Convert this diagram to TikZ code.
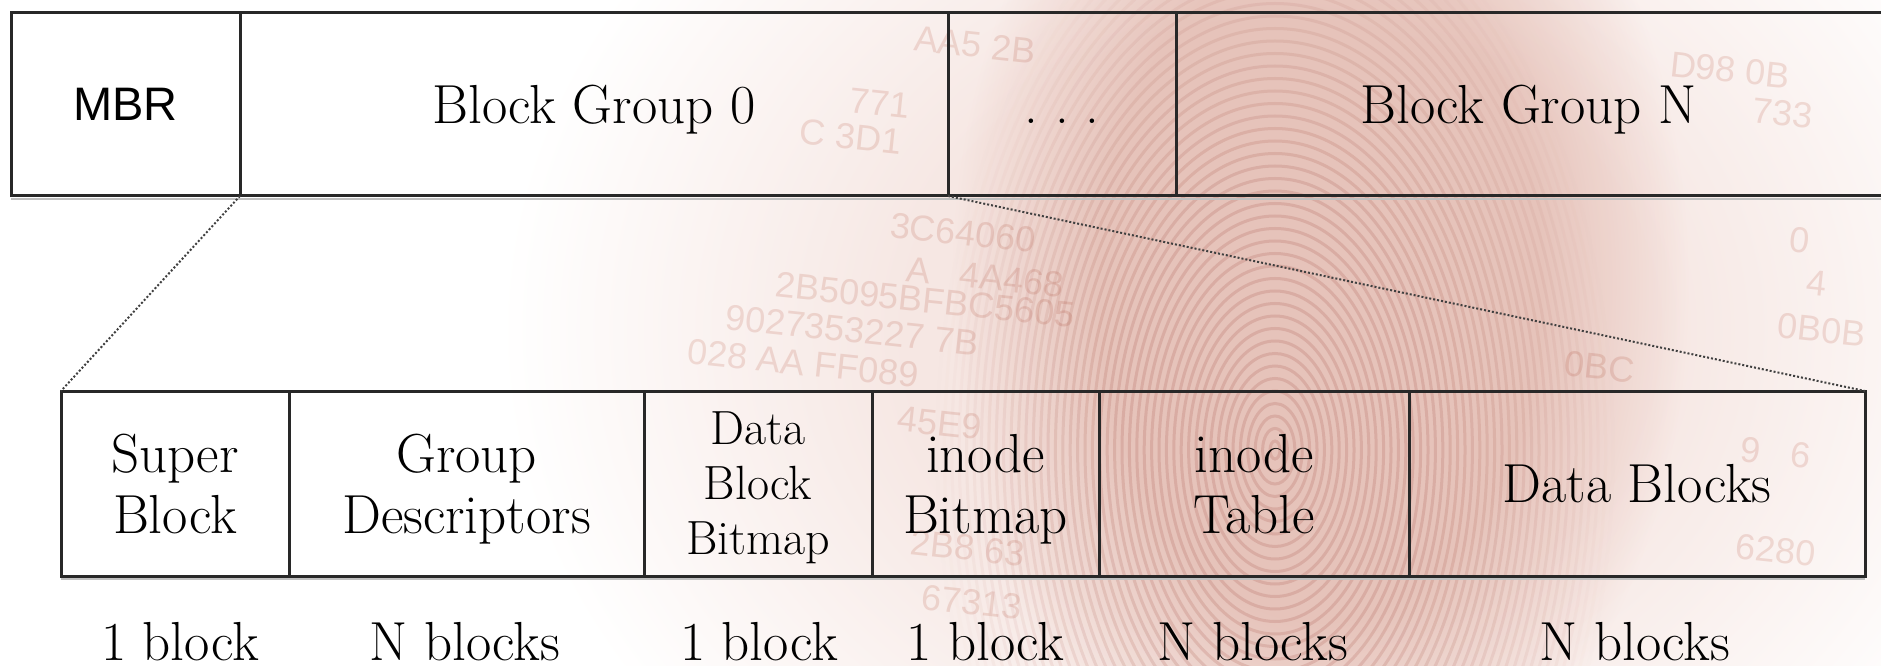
\documentclass[tikz,border=0pt]{standalone}
\usepackage{fontspec}
\newfontfamily\mbrfont{Liberation Sans}
\newfontfamily\hexfont{Liberation Sans}
\usetikzlibrary{calc}

% watermark colours
\definecolor{glowpink}{RGB}{246,231,227}
\definecolor{bodypink}{RGB}{239,216,210}
\definecolor{ridgepink}{RGB}{196,134,124}
\definecolor{hexpink}{RGB}{243,226,222}
\definecolor{edge}{RGB}{40,40,40}

% soft elliptical glows: flat core, fading to white at the rim
\pgfdeclareradialshading{glowshade}{\pgfpointorigin}{color(0bp)=(glowpink); color(12bp)=(glowpink); color(25bp)=(white); color(50bp)=(white)}
\pgfdeclareradialshading{bodyshade}{\pgfpointorigin}{color(0bp)=(bodypink); color(15bp)=(bodypink); color(25bp)=(white); color(50bp)=(white)}

\begin{document}
\begin{tikzpicture}[x=1pt,y=1pt,
  cell/.style={draw=edge, line width=3pt, inner sep=0pt, outer sep=0pt,
    text depth=0pt, align=center, font=\fontsize{55}{61}\selectfont},
  toprow/.style={cell, minimum height=183pt},
  botrow/.style={cell, minimum height=185pt},
  rowline/.style={draw=edge, line width=3pt},
  shadowline/.style={draw=black!25, line width=2.5pt},
  zoomline/.style={draw=black!75, line width=2pt, dash pattern=on 2pt off 2pt},
  sizelabel/.style={anchor=base, inner sep=0pt, font=\fontsize{55}{61}\selectfont},
  hex/.style={text=hexpink, inner sep=0pt, rotate=-6, font=\hexfont\fontsize{36}{36}\selectfont},
]
\useasboundingbox (0,0) rectangle (1881,665);
\fill[white] (0,0) rectangle (1881,665);

% fingerprint watermark behind the diagram
\begin{scope}[blend mode=multiply]
  \shade[shading=glowshade] (1280,335) ellipse (780 and 640);
  \shade[shading=bodyshade] (1320,380) ellipse (370 and 560);
  \foreach \i in {0,...,45}{
    \pgfmathtruncatemacro\k{min(24,30*(1-(\i/46)^2))}
    \draw[draw=ridgepink!\k!white, line width=3pt] (1275,215) ellipse ({5+7.4*\i} and {9+12.5*\i});
  }
  % hexadecimal dump fragments
  \node[hex] (h1) at (963,432) {3C64060};
  \node[hex] (h2) at (985,388) {A\ \ \ 4A468};
  \node[hex] (h3) at (925,365) {2B5095BFBC5605};
  \node[hex] (h4) at (852,335) {9027353227 7B};
  \node[hex] (h5) at (803,302) {028 AA FF089};
  \node[hex] (h6) at (940,242) {45E9};
  \node[hex] (h7) at (968,117) {2B8 63};
  \node[hex] (h8) at (972,63) {67313};
  \node[hex] (h9) at (975,620) {AA5 2B};
  \node[hex] (h10) at (880,562) {771};
  \node[hex] (h11) at (851,528) {C 3D1};
  \node[hex] (h12) at (1730,595) {D98 0B};
  \node[hex] (h13) at (1783,552) {733};
  \node[hex] (h14) at (1800,425) {0};
  \node[hex] (h15) at (1817,382) {4};
  \node[hex] (h16) at (1822,335) {0B0B};
  \node[hex] (h17) at (1600,298) {0BC};
  \node[hex] (h18) at (1776,212) {9\ \ \ 6};
  \node[hex] (h19) at (1776,115) {6280};
\end{scope}

% disk layout: MBR followed by the block groups
\node[toprow, minimum width=229pt, font=\mbrfont\fontsize{47}{56}\selectfont] (mbr) at (125.5,560.5) {MBR};
\node[toprow, minimum width=708pt] (bg0) at (594,560.5) {Block Group 0};
\node[toprow, minimum width=228pt] (dots) at (1062,560.5) {.\ .\ .\vphantom{B}};
\node[toprow, minimum width=705pt, draw=none] (bgn) at (1528.5,560.5) {Block Group N};
\draw[rowline] (bgn.north west) -- ([xshift=10pt]bgn.north east);
\draw[rowline] (bgn.south west) -- ([xshift=10pt]bgn.south east);
\draw[shadowline] ([yshift=-3pt]mbr.south west) -- ([xshift=10pt,yshift=-3pt]bgn.south east);

% layout of one block group
\node[botrow, minimum width=228pt] (sb) at (175,181.5) {Super\\Block};
\node[botrow, minimum width=355pt] (gd) at (466.5,181.5) {Group\\Descriptors};
\node[botrow, minimum width=228pt, font=\fontsize{48}{55}\selectfont] (dbb) at (758,181.5) {Data\\Block\\Bitmap};
\node[botrow, minimum width=227pt] (ib) at (985.5,181.5) {inode\\Bitmap};
\node[botrow, minimum width=310pt] (it) at (1254,181.5) {inode\\Table};
\node[botrow, minimum width=456pt] (db) at (1637,181.5) {Data Blocks};
\draw[shadowline] ([yshift=-3pt]sb.south west) -- ([yshift=-3pt]db.south east);

% zoom lines from block group 0 to its expansion
\draw[zoomline] (mbr.south east) -- (sb.north west);
\draw[zoomline] (bg0.south east) -- (db.north east);

% sizes
\node[sizelabel] (s1) at (180,5) {1 block};
\node[sizelabel] (s2) at (465,5) {N blocks};
\node[sizelabel] (s3) at (759,5) {1 block};
\node[sizelabel] (s4) at (985.5,5) {1 block};
\node[sizelabel] (s5) at (1253,5) {N blocks};
\node[sizelabel] (s6) at (1635,5) {N blocks};
\end{tikzpicture}
\end{document}
